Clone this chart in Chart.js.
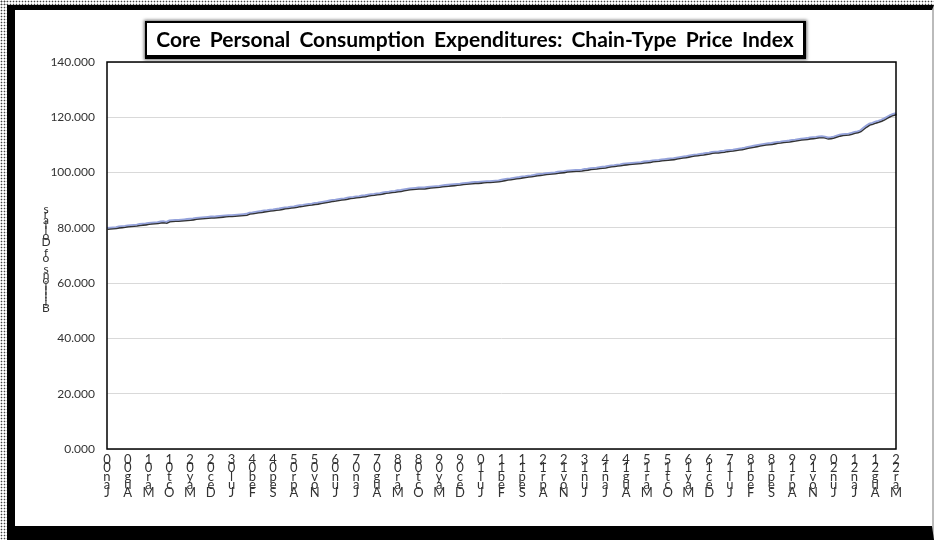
<!DOCTYPE html>
<html>
<head>
<meta charset="utf-8">
<script src="https://cdn.jsdelivr.net/npm/chart.js@4.4.1/dist/chart.umd.min.js"></script>
<style>
  html, body { margin: 0; padding: 0; background: #fff; }
  .dots {
    position: absolute;
    background-image: radial-gradient(circle, #444 0.7px, transparent 1.1px);
    background-size: 3px 3px;
  }
  #dotsLeft { left: 0; top: 0; width: 7px; height: 540px; }
  #dotsTop { left: 0; top: 0; width: 934px; height: 5px; }
  #sheet {
    position: absolute; left: 7px; top: 5px; width: 927px; height: 535px;
    box-sizing: border-box; background: #fff;
    border-left: 8px solid #000; border-top: 5px solid #000;
    border-bottom: 14px solid #000; border-right: 2px solid #bbb;
  }
  #wrap { position: absolute; left: 0; top: 0; width: 934px; height: 540px; }
  #title {
    position: absolute; left: 145px; top: 21px; width: 656px; height: 32px;
    box-sizing: content-box; background: #fff;
    border: 2px solid #000; border-bottom-width: 4px; border-right-width: 3px;
    box-shadow: 0 0 3px 1px rgba(0, 0, 0, 0.55);
    font: bold 21px Lato, sans-serif; word-spacing: 4px; color: #000;
    text-align: center; line-height: 32px; white-space: nowrap;
  }
</style>
</head>
<body>
<div id="dotsLeft" class="dots"></div>
<div id="dotsTop" class="dots"></div>
<div id="sheet"></div>
<div id="wrap"><canvas id="chart"></canvas></div>
<div id="title">Core Personal Consumption Expenditures: Chain-Type Price Index</div>
<script>
// chart data
const chartTitle = "Core Personal Consumption Expenditures: Chain-Type Price Index";
const yTitle = "Billions of Dollars";
const monthNames = ["Jan", "Feb", "Mar", "Apr", "May", "Jun", "Jul", "Aug", "Sep", "Oct", "Nov", "Dec"];
const firstYear = 2000;
const lastYear = 2022;
const lastMonth = 3; // data ends at Mar-22

// every 7th month is labelled on the axis
const tickLabels = [
  "Jan-00", "Aug-00", "Mar-01", "Oct-01", "May-02", "Dec-02", "Jul-03", "Feb-04",
  "Sep-04", "Apr-05", "Nov-05", "Jun-06", "Jan-07", "Aug-07", "Mar-08", "Oct-08",
  "May-09", "Dec-09", "Jul-10", "Feb-11", "Sep-11", "Apr-12", "Nov-12", "Jun-13",
  "Jan-14", "Aug-14", "Mar-15", "Oct-15", "May-16", "Dec-16", "Jul-17", "Feb-18",
  "Sep-18", "Apr-19", "Nov-19", "Jun-20", "Jan-21", "Aug-21", "Mar-22"
];

// monthly index values, one row per year
const indexValues = [
  80.0, 80.1, 80.2, 80.3, 80.5, 80.6, 80.7, 80.9, 81.0, 81.1, 81.2, 81.4,
  81.5, 81.6, 81.8, 81.9, 82.0, 82.1, 82.3, 82.4, 82.2, 82.7, 82.8, 82.9,
  82.9, 83.0, 83.1, 83.2, 83.3, 83.4, 83.6, 83.7, 83.8, 83.9, 84.0, 84.1,
  84.1, 84.2, 84.3, 84.4, 84.5, 84.6, 84.6, 84.7, 84.8, 84.9, 85.0, 85.1,
  85.5, 85.6, 85.8, 86.0, 86.1, 86.3, 86.4, 86.6, 86.7, 86.9, 87.0, 87.2,
  87.4, 87.5, 87.7, 87.8, 88.0, 88.2, 88.3, 88.5, 88.7, 88.8, 89.0, 89.1,
  89.3, 89.5, 89.7, 89.9, 90.1, 90.2, 90.4, 90.6, 90.7, 90.9, 91.1, 91.2,
  91.4, 91.5, 91.7, 91.8, 92.0, 92.2, 92.3, 92.5, 92.6, 92.8, 93.0, 93.1,
  93.3, 93.4, 93.6, 93.7, 93.9, 94.1, 94.3, 94.4, 94.5, 94.6, 94.6, 94.6,
  94.8, 94.9, 95.0, 95.1, 95.2, 95.4, 95.5, 95.6, 95.7, 95.8, 95.9, 96.0,
  96.2, 96.3, 96.4, 96.5, 96.6, 96.6, 96.7, 96.8, 96.9, 96.9, 97.0, 97.1,
  97.2, 97.4, 97.6, 97.8, 97.9, 98.1, 98.3, 98.4, 98.6, 98.7, 98.9, 99.0,
  99.2, 99.4, 99.5, 99.6, 99.8, 99.9, 100.0, 100.1, 100.3, 100.4, 100.5, 100.7,
  100.8, 100.9, 101.0, 101.0, 101.1, 101.3, 101.4, 101.6, 101.7, 101.8, 102.0, 102.1,
  102.2, 102.4, 102.6, 102.7, 102.9, 103.0, 103.2, 103.3, 103.4, 103.5, 103.6, 103.7,
  103.8, 104.0, 104.1, 104.2, 104.4, 104.5, 104.6, 104.8, 104.9, 105.0, 105.1, 105.2,
  105.4, 105.6, 105.8, 105.9, 106.1, 106.3, 106.5, 106.6, 106.8, 106.9, 107.1, 107.2,
  107.5, 107.6, 107.6, 107.8, 107.9, 108.1, 108.2, 108.3, 108.5, 108.7, 108.8, 109.0,
  109.3, 109.5, 109.7, 109.9, 110.1, 110.3, 110.5, 110.6, 110.7, 110.9, 111.1, 111.2,
  111.4, 111.5, 111.6, 111.8, 111.9, 112.1, 112.3, 112.4, 112.5, 112.7, 112.8, 112.9,
  113.1, 113.2, 113.0, 112.7, 112.8, 113.0, 113.4, 113.7, 113.9, 114.0, 114.1, 114.4,
  114.7, 114.9, 115.3, 116.2, 117.0, 117.7, 118.0, 118.4, 118.7, 119.1, 119.6, 120.2,
  120.8, 121.2, 121.5
];

// month labels Jan-00 .. Mar-22
const categories = [];
for (let y = firstYear; y <= lastYear; y++) {
  monthNames.forEach((m, i) => {
    if (y === lastYear && i >= lastMonth) return;
    categories.push(m + "-" + String(y).slice(2));
  });
}

// labels are stacked one character per row, read bottom-up
const stackLabel = (text) => text.replace("-", "").split("").reverse();

// black box around the plot
const plotFrame = {
  id: "plotFrame",
  afterDatasetsDraw(chart) {
    const { ctx, chartArea } = chart;
    ctx.save();
    ctx.strokeStyle = "#000";
    ctx.lineWidth = 1.5;
    ctx.strokeRect(chartArea.left, chartArea.top, chartArea.right - chartArea.left, chartArea.bottom - chartArea.top);
    ctx.restore();
  },
};

// dark shadow under the line
const lineShadow = {
  id: "lineShadow",
  beforeDatasetDraw(chart) {
    const ctx = chart.ctx;
    ctx.save();
    ctx.shadowColor = "rgba(0,0,0,0.8)";
    ctx.shadowOffsetX = 0.5;
    ctx.shadowOffsetY = 1.3;
    ctx.shadowBlur = 0.4;
  },
  afterDatasetDraw(chart) {
    chart.ctx.restore();
  },
};

// y axis title, characters stacked
const sideTitle = {
  id: "sideTitle",
  afterDraw(chart) {
    const ctx = chart.ctx;
    const chars = yTitle.split("").reverse();
    ctx.save();
    ctx.font = "12px Lato";
    ctx.fillStyle = "#333";
    ctx.textAlign = "center";
    ctx.textBaseline = "middle";
    chars.forEach((c, i) => ctx.fillText(c, 46, 209 + i * 5.5));
    ctx.restore();
  },
};

const ctx = document.getElementById("chart").getContext("2d");
new Chart(ctx, {
  type: "line",
  data: {
    labels: categories,
    datasets: [
      {
        label: chartTitle,
        data: indexValues,
        borderColor: "#95a3dc",
        borderWidth: 1.8,
        pointRadius: 0,
        tension: 0,
        fill: false,
      },
    ],
  },
  options: {
    responsive: true,
    maintainAspectRatio: false,
    animation: false,
    layout: { padding: { top: 62, right: 38, bottom: 31, left: 0 } },
    plugins: {
      legend: { display: false },
      title: { display: false },
      tooltip: { enabled: false },
    },
    scales: {
      x: {
        offset: false,
        grid: { display: false, drawTicks: false },
        border: { display: false },
        afterFit: (scale) => { scale.height = 60; },
        ticks: {
          autoSkip: false,
          maxRotation: 0,
          minRotation: 0,
          padding: 7,
          color: "#333",
          font: { family: "Lato", size: 13, lineHeight: 0.63 },
          callback: (value, index) => {
            const lab = categories[index];
            return tickLabels.includes(lab) ? stackLabel(lab) : "";
          },
        },
      },
      y: {
        min: 0,
        max: 140,
        grid: { color: "#d9d9d9", lineWidth: 1, drawTicks: false },
        border: { display: false },
        afterFit: (scale) => { scale.width = 107; },
        ticks: {
          stepSize: 20,
          padding: 12,
          color: "#333",
          font: { family: "Lato", size: 12 },
          callback: (v) => v.toFixed(3),
        },
      },
    },
  },
  plugins: [plotFrame, lineShadow, sideTitle],
});
</script>
</body>
</html>
